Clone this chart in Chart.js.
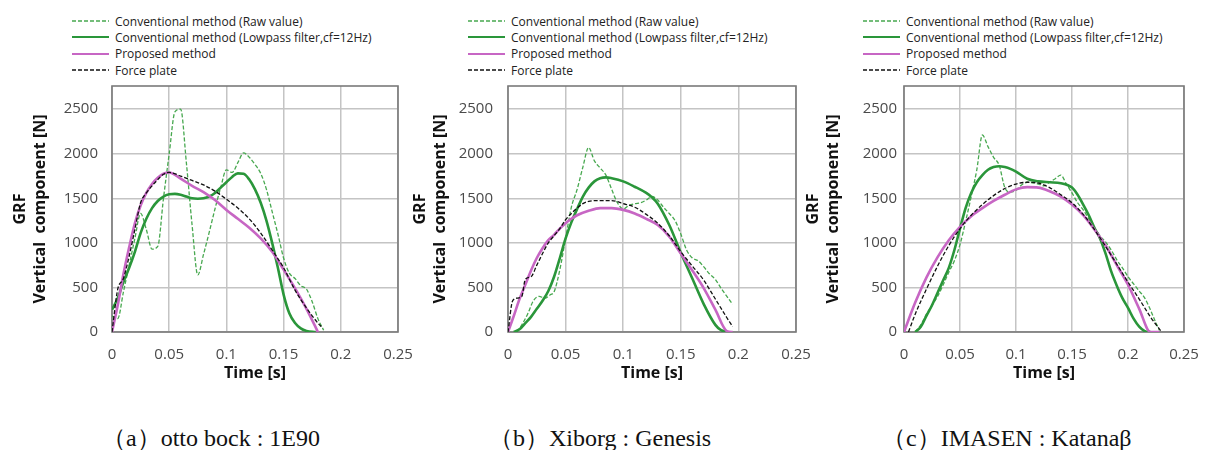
<!DOCTYPE html>
<html lang="en">
<head>
<meta charset="UTF-8">
<title>GRF vertical component</title>
<script src="https://cdn.jsdelivr.net/npm/chart.js"></script>
<style>
  body { margin: 0; background: #fff; width: 1206px; height: 450px; position: relative; overflow: hidden; font-family: "Open Sans", sans-serif; }
  .panel { position: absolute; top: 72px; height: 318px; }
  .legend { position: absolute; top: 13px; font-size: 12px; color: #222; }
  .legend div { display: flex; align-items: center; height: 16.3px; white-space: nowrap; }
  .legend svg { margin-right: 6px; }
  .caption { position: absolute; top: 426px; font-family: "Liberation Serif", serif; font-size: 24px; line-height: 24px; color: #111; white-space: pre; }
</style>
</head>
<body>

<div class="legend" id="legA" style="left:72px"></div>
<div class="legend" id="legB" style="left:468px"></div>
<div class="legend" id="legC" style="left:863px"></div>

<div class="panel" style="left:0px;width:420px"><canvas id="chartA"></canvas></div>
<div class="panel" style="left:400px;width:418px"><canvas id="chartB"></canvas></div>
<div class="panel" style="left:800px;width:406px"><canvas id="chartC"></canvas></div>

<div class="caption" style="left:102px">（a）otto bock : 1E90</div>
<div class="caption" style="left:489px">（b）Xiborg : Genesis</div>
<div class="caption" style="left:882px">（c）IMASEN : Katanaβ</div>

<script>
// series names (same for all three feet)
const seriesNames = [
  "Conventional method (Raw value)",
  "Conventional method (Lowpass filter,cf=12Hz)",
  "Proposed method",
  "Force plate"
];

// x axis ticks [s], y axis ticks [N]
const timeTicks = [0, 0.05, 0.1, 0.15, 0.2, 0.25];
const grfTicks = [0, 500, 1000, 1500, 2000, 2500];

// ---- (a) otto bock : 1E90 ----
const aRawT = [0, 0.005, 0.01, 0.015, 0.02, 0.025, 0.03, 0.035, 0.04, 0.045, 0.05, 0.055, 0.06, 0.065, 0.07, 0.075, 0.08, 0.085, 0.09, 0.095, 0.1, 0.105, 0.11, 0.115, 0.12, 0.125, 0.13, 0.135, 0.14, 0.145, 0.15, 0.155, 0.16, 0.165, 0.17, 0.175, 0.18, 0.185];
const aRawV = [180, 150, 450, 750, 1050, 1330, 1150, 930, 960, 1500, 2000, 2470, 2500, 1900, 1200, 640, 870, 1120, 1380, 1620, 1820, 1790, 1900, 2010, 1960, 1880, 1780, 1600, 1350, 1100, 830, 660, 600, 520, 480, 340, 150, 20];
const aLpfT = [0, 0.005, 0.01, 0.015, 0.02, 0.025, 0.03, 0.035, 0.04, 0.045, 0.05, 0.055, 0.06, 0.065, 0.07, 0.075, 0.08, 0.085, 0.09, 0.095, 0.1, 0.105, 0.11, 0.115, 0.12, 0.125, 0.13, 0.135, 0.14, 0.145, 0.15, 0.155, 0.16, 0.165, 0.17, 0.178];
const aLpfV = [250, 380, 560, 720, 900, 1110, 1270, 1390, 1470, 1520, 1545, 1550, 1540, 1520, 1500, 1495, 1500, 1520, 1560, 1620, 1680, 1740, 1780, 1775, 1710, 1600, 1450, 1250, 1000, 720, 420, 210, 100, 40, 12, 0];
const aPropT = [0, 0.005, 0.01, 0.015, 0.02, 0.025, 0.03, 0.035, 0.04, 0.045, 0.05, 0.06, 0.07, 0.08, 0.09, 0.1, 0.11, 0.12, 0.13, 0.14, 0.15, 0.16, 0.17, 0.18];
const aPropV = [0, 300, 650, 950, 1220, 1420, 1560, 1660, 1730, 1775, 1790, 1720, 1640, 1570, 1480, 1370, 1270, 1170, 1050, 900, 700, 490, 260, 0];
const aPlateT = [0, 0.005, 0.01, 0.015, 0.02, 0.025, 0.03, 0.035, 0.04, 0.045, 0.05, 0.06, 0.07, 0.08, 0.09, 0.1, 0.11, 0.12, 0.13, 0.14, 0.15, 0.16, 0.17, 0.18, 0.183];
const aPlateV = [0, 480, 600, 850, 1150, 1450, 1560, 1640, 1710, 1770, 1790, 1750, 1700, 1650, 1580, 1490, 1390, 1270, 1110, 920, 720, 470, 270, 100, 60];

// ---- (b) Xiborg : Genesis ----
const bRawT = [0.008, 0.012, 0.017, 0.022, 0.027, 0.032, 0.037, 0.04, 0.045, 0.05, 0.055, 0.06, 0.065, 0.07, 0.075, 0.08, 0.085, 0.09, 0.095, 0.1, 0.105, 0.11, 0.115, 0.12, 0.125, 0.13, 0.135, 0.14, 0.145, 0.15, 0.155, 0.16, 0.165, 0.17, 0.175, 0.18, 0.185, 0.19, 0.195];
const bRawV = [0, 80, 200, 350, 400, 380, 420, 450, 700, 1050, 1400, 1600, 1850, 2070, 1920, 1840, 1760, 1600, 1450, 1380, 1420, 1440, 1450, 1480, 1520, 1480, 1400, 1330, 1250, 1100, 920, 830, 800, 730, 650, 590, 490, 400, 310];
const bLpfT = [0.005, 0.01, 0.015, 0.02, 0.025, 0.03, 0.035, 0.04, 0.045, 0.05, 0.055, 0.06, 0.065, 0.07, 0.075, 0.08, 0.085, 0.09, 0.1, 0.11, 0.12, 0.125, 0.13, 0.14, 0.15, 0.16, 0.17, 0.18, 0.185, 0.19];
const bLpfV = [0, 30, 100, 170, 260, 350, 460, 620, 830, 1050, 1230, 1380, 1520, 1620, 1690, 1725, 1735, 1725, 1690, 1630, 1560, 1510, 1440, 1200, 890, 600, 310, 80, 20, 0];
const bPropT = [0, 0.005, 0.01, 0.015, 0.02, 0.025, 0.03, 0.035, 0.04, 0.045, 0.05, 0.055, 0.06, 0.07, 0.08, 0.09, 0.1, 0.11, 0.12, 0.13, 0.14, 0.15, 0.16, 0.17, 0.18, 0.19, 0.195];
const bPropV = [0, 180, 370, 530, 690, 830, 940, 1030, 1090, 1160, 1220, 1270, 1310, 1360, 1390, 1390, 1370, 1330, 1270, 1200, 1070, 880, 690, 490, 250, 10, 0];
const bPlateT = [0, 0.004, 0.008, 0.012, 0.015, 0.02, 0.025, 0.03, 0.035, 0.04, 0.045, 0.05, 0.055, 0.06, 0.065, 0.07, 0.08, 0.09, 0.1, 0.11, 0.12, 0.13, 0.14, 0.15, 0.16, 0.17, 0.18, 0.19, 0.195];
const bPlateV = [0, 350, 380, 400, 590, 620, 750, 880, 1000, 1080, 1160, 1260, 1330, 1390, 1440, 1465, 1475, 1475, 1440, 1400, 1320, 1220, 1080, 900, 740, 580, 370, 160, 60];

// ---- (c) IMASEN : Katanaβ ----
const cRawT = [0.01, 0.015, 0.02, 0.025, 0.03, 0.035, 0.04, 0.045, 0.05, 0.055, 0.06, 0.065, 0.07, 0.075, 0.08, 0.085, 0.09, 0.095, 0.1, 0.105, 0.11, 0.12, 0.125, 0.13, 0.135, 0.14, 0.145, 0.15, 0.155, 0.16, 0.165, 0.17, 0.175, 0.18, 0.185, 0.19, 0.195, 0.2, 0.205, 0.21, 0.215, 0.22, 0.225, 0.228];
const cRawV = [0, 80, 200, 300, 400, 530, 670, 800, 980, 1240, 1520, 1820, 2210, 2080, 1960, 1870, 1620, 1570, 1590, 1650, 1680, 1660, 1640, 1680, 1720, 1760, 1660, 1560, 1450, 1370, 1270, 1170, 1080, 1010, 920, 810, 720, 620, 540, 460, 380, 250, 100, 20];
const cLpfT = [0.01, 0.015, 0.02, 0.025, 0.03, 0.035, 0.04, 0.045, 0.05, 0.055, 0.06, 0.065, 0.07, 0.075, 0.08, 0.085, 0.09, 0.095, 0.1, 0.11, 0.12, 0.13, 0.14, 0.15, 0.155, 0.16, 0.165, 0.17, 0.175, 0.18, 0.185, 0.19, 0.195, 0.2, 0.205, 0.21, 0.215, 0.22];
const cLpfV = [0, 60, 180, 300, 440, 580, 720, 920, 1160, 1390, 1560, 1680, 1760, 1820, 1850, 1860, 1850, 1830, 1800, 1720, 1690, 1680, 1670, 1620, 1540, 1430, 1310, 1170, 1050, 880, 680, 520, 380, 270, 150, 60, 10, 0];
const cPropT = [0, 0.01, 0.02, 0.03, 0.04, 0.05, 0.06, 0.07, 0.08, 0.09, 0.1, 0.11, 0.12, 0.13, 0.14, 0.15, 0.16, 0.17, 0.18, 0.19, 0.2, 0.21, 0.22, 0.228];
const cPropV = [0, 330, 610, 840, 1030, 1180, 1300, 1390, 1470, 1540, 1600, 1625, 1620, 1580, 1520, 1430, 1310, 1150, 970, 750, 530, 260, 0, 0];
const cPlateT = [0.004, 0.01, 0.02, 0.03, 0.04, 0.05, 0.06, 0.07, 0.08, 0.09, 0.1, 0.11, 0.12, 0.13, 0.14, 0.15, 0.16, 0.17, 0.18, 0.19, 0.2, 0.21, 0.22, 0.23];
const cPlateV = [0, 200, 480, 740, 970, 1160, 1310, 1430, 1530, 1610, 1660, 1680, 1670, 1620, 1540, 1450, 1320, 1150, 960, 760, 560, 370, 170, 0];

// line look per series, in the order of seriesNames
const seriesStyle = [
  { color: "#47a84f", width: 1.3, dash: [4, 2] },
  { color: "#2a963a", width: 2.6, dash: [] },
  { color: "#c766c4", width: 2.6, dash: [] },
  { color: "#111111", width: 1.3, dash: [4, 2] }
];

function points(ts, vs) {
  return ts.map((t, i) => ({ x: t, y: vs[i] }));
}

// plot frame around the chart area
const framePlugin = {
  id: "frame",
  beforeDatasetsDraw(chart) {
    const a = chart.chartArea, ctx = chart.ctx;
    ctx.save();
    ctx.strokeStyle = "#7a7a7a";
    ctx.lineWidth = 1.6;
    ctx.strokeRect(a.left, a.top, a.right - a.left, a.bottom - a.top);
    ctx.restore();
  }
};

function makeChart(id, series, yAxisWidth, yTickPad, yTitlePad) {
  // draw order: force plate at the back, raw value on top
  const order = [3, 2, 1, 0];
  const datasets = order.map(k => ({
    label: seriesNames[k],
    data: points(series[k][0], series[k][1]),
    borderColor: seriesStyle[k].color,
    borderWidth: seriesStyle[k].width,
    borderDash: seriesStyle[k].dash,
    pointRadius: 0,
    fill: false,
    cubicInterpolationMode: "monotone"
  }));

  return new Chart(document.getElementById(id), {
    type: "line",
    data: { datasets },
    options: {
      responsive: true,
      maintainAspectRatio: false,
      animation: false,
      events: [],
      layout: { padding: { top: 14, right: 22, left: 0, bottom: 0 } },
      plugins: { legend: { display: false }, tooltip: { enabled: false } },
      scales: {
        x: {
          type: "linear",
          min: 0,
          max: 0.25,
          afterBuildTicks: s => { s.ticks = timeTicks.map(v => ({ value: v })); },
          afterFit: s => { s.height = 58; s.paddingLeft = 0; s.paddingRight = 0; },
          grid: { color: "#c4c4c4", lineWidth: 1.5, drawTicks: false },
          border: { display: false },
          ticks: {
            padding: 14,
            color: "#4a4a4a",
            font: { family: "Open Sans", size: 15 },
            maxRotation: 0,
            callback: v => String(+v.toFixed(2))
          },
          title: {
            display: true,
            text: "Time [s]",
            color: "#111",
            font: { family: "Open Sans", size: 16, weight: "bold" },
            padding: { top: 0, bottom: 7 }
          }
        },
        y: {
          min: 0,
          max: 2760,
          afterBuildTicks: s => { s.ticks = grfTicks.map(v => ({ value: v })); },
          // keep the plot edges fixed, not pushed by the tick label height
          afterFit: s => { s.width = yAxisWidth; s.paddingTop = 0; s.paddingBottom = 0; },
          grid: { color: "#c4c4c4", lineWidth: 1.5, drawTicks: false },
          border: { display: false },
          ticks: {
            padding: yTickPad,
            color: "#4a4a4a",
            font: { family: "Open Sans", size: 15 },
            callback: v => String(v)
          },
          title: {
            display: true,
            text: ["GRF", "Vertical  component [N]"],
            color: "#111",
            font: { family: "Open Sans", size: 16, weight: "bold", lineHeight: 1.25 },
            padding: { top: yTitlePad, bottom: 0 }
          }
        }
      }
    },
    plugins: [framePlugin]
  });
}

// legend rows built from the series names and line styles
function makeLegend(id) {
  const box = document.getElementById(id);
  seriesNames.forEach((name, k) => {
    const st = seriesStyle[k];
    const row = document.createElement("div");
    row.innerHTML =
      '<svg width="37" height="8"><line x1="0" y1="4" x2="37" y2="4" stroke="' + st.color +
      '" stroke-width="' + Math.min(st.width, 2.2) + '" stroke-dasharray="' + (st.dash.join(",") || "none") +
      '"/></svg><span>' + name + "</span>";
    box.appendChild(row);
  });
}

makeChart("chartA", [[aRawT, aRawV], [aLpfT, aLpfV], [aPropT, aPropV], [aPlateT, aPlateV]], 112, 14, 10);
makeChart("chartB", [[bRawT, bRawV], [bLpfT, bLpfV], [bPropT, bPropV], [bPlateT, bPlateV]], 108, 15, 10);
makeChart("chartC", [[cRawT, cRawV], [cLpfT, cLpfV], [cPropT, cPropV], [cPlateT, cPlateV]], 104, 7, 3);

makeLegend("legA");
makeLegend("legB");
makeLegend("legC");
</script>
</body>
</html>
